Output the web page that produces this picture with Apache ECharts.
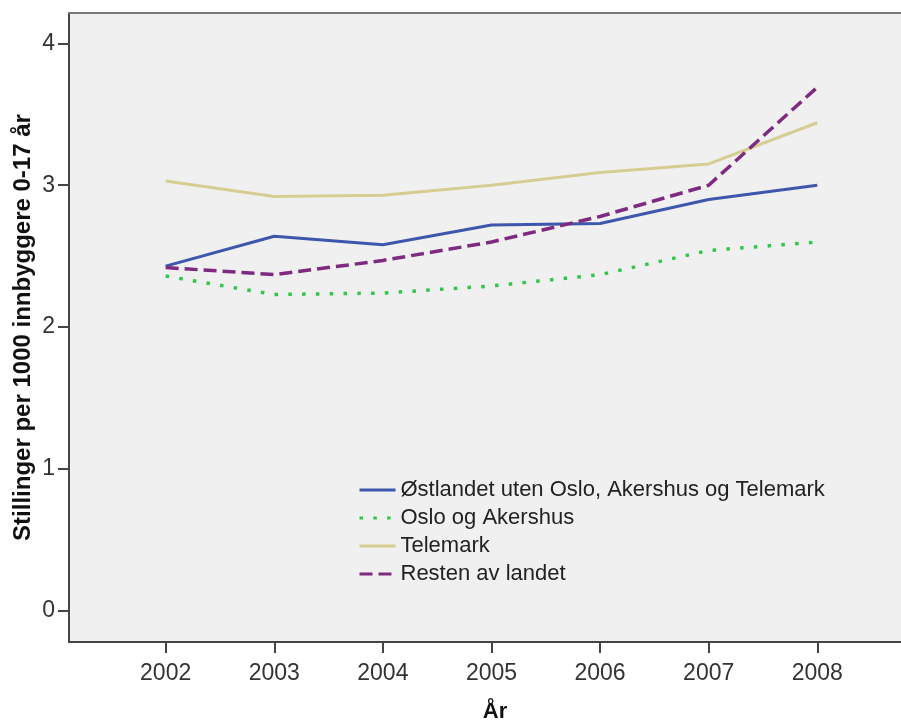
<!DOCTYPE html>
<html>
<head>
<meta charset="utf-8">
<script src="https://cdn.jsdelivr.net/npm/echarts@6/dist/echarts.min.js"></script>
<style>
	html, body { margin: 0; padding: 0; background: #fff; }
	#chart_box { width: 901px; height: 722px; }
</style>
</head>
<body>
<div id="chart_box"></div>
<script>
// år
var years = [2002, 2003, 2004, 2005, 2006, 2007, 2008];
var yTicks = [0, 1, 2, 3, 4];
// stillinger per 1000 innbyggere 0-17 år
var ostlandet = [2.43, 2.64, 2.58, 2.72, 2.73, 2.90, 3.00];
var osloAkershus = [2.36, 2.23, 2.24, 2.29, 2.37, 2.54, 2.60];
var telemark = [3.03, 2.92, 2.93, 3.00, 3.09, 3.15, 3.44];
var restenAvLandet = [2.42, 2.37, 2.47, 2.60, 2.78, 3.00, 3.69];

function pairs(vals) {
	var out = [];
	for (var i = 0; i < years.length; i++) {
		out.push([years[i], vals[i]]);
	}
	return out;
}

var font = '"Liberation Sans", Arial, sans-serif';
var myChart = echarts.init(document.getElementById('chart_box'));

var xMin = 2001.11, xMax = 2008.955;

var option = {
	backgroundColor: '#ffffff',
	animation: false,
	grid: {
		left: 69,
		top: 13,
		bottom: 80,
		right: -20,
		outerBoundsMode: 'none',
		containLabel: false,
		show: true,
		backgroundColor: '#f0f0f0',
		borderWidth: 0
	},
	legend: {
		orient: 'vertical',
		left: 353,
		top: 473,
		itemWidth: 36,
		itemHeight: 14,
		itemGap: 4,
		itemStyle: { opacity: 0 },
		lineStyle: { width: 3 },
		textStyle: {
			fontFamily: font,
			fontSize: 22,
			lineHeight: 24,
			color: '#222'
		},
		data: ['Østlandet uten Oslo, Akershus og Telemark', 'Oslo og Akershus', 'Telemark', 'Resten av landet']
	},
	xAxis: [{
		type: 'value',
		min: xMin,
		max: xMax,
		name: 'År',
		nameLocation: 'middle',
		nameGap: 59,
		nameMoveOverlap: false,
		nameTextStyle: { fontFamily: font, fontSize: 22, fontWeight: 'bold', color: '#111' },
		axisLine: { show: true, onZero: false, lineStyle: { color: '#444', width: 2 } },
		axisTick: { show: true, customValues: years, length: 11, lineStyle: { color: '#444', width: 2 } },
		axisLabel: {
			customValues: years,
			fontFamily: font,
			fontSize: 23,
			color: '#333',
			margin: 20,
			formatter: function(v) { return String(v); }
		},
		splitLine: { show: false }
	}, {
		// øvre ramme
		type: 'value',
		position: 'top',
		min: xMin,
		max: xMax,
		axisLine: { show: true, onZero: false, lineStyle: { color: '#777', width: 2 } },
		axisTick: { show: false },
		axisLabel: { show: false },
		splitLine: { show: false }
	}],
	yAxis: {
		type: 'value',
		min: -0.2185,
		max: 4.2135,
		name: 'Stillinger per 1000 innbyggere 0-17 år',
		nameLocation: 'middle',
		nameGap: 34,
		nameMoveOverlap: false,
		nameTextStyle: { fontFamily: font, fontSize: 24, fontWeight: 'bold', color: '#111' },
		axisLine: { show: true, onZero: false, lineStyle: { color: '#444', width: 2 } },
		axisTick: { show: true, customValues: yTicks, length: 11, lineStyle: { color: '#444', width: 2 } },
		axisLabel: {
			customValues: yTicks,
			fontFamily: font,
			fontSize: 23,
			color: '#333',
			margin: 14
		},
		splitLine: { show: false }
	},
	series: [{
		name: 'Østlandet uten Oslo, Akershus og Telemark',
		type: 'line',
		symbol: 'none',
		data: pairs(ostlandet),
		itemStyle: { color: '#3d57ad' },
		lineStyle: { color: '#3d57ad', width: 3 }
	}, {
		name: 'Oslo og Akershus',
		type: 'line',
		symbol: 'none',
		data: pairs(osloAkershus),
		itemStyle: { color: '#2fc748' },
		lineStyle: { color: '#2fc748', width: 3.5, type: [3.5, 10.3] }
	}, {
		name: 'Telemark',
		type: 'line',
		symbol: 'none',
		data: pairs(telemark),
		itemStyle: { color: '#d6cd92' },
		lineStyle: { color: '#d6cd92', width: 3 }
	}, {
		name: 'Resten av landet',
		type: 'line',
		symbol: 'none',
		data: pairs(restenAvLandet),
		itemStyle: { color: '#7e2a80' },
		lineStyle: { color: '#7e2a80', width: 3.5, type: [13, 6] }
	}]
};
myChart.setOption(option);
</script>
</body>
</html>
